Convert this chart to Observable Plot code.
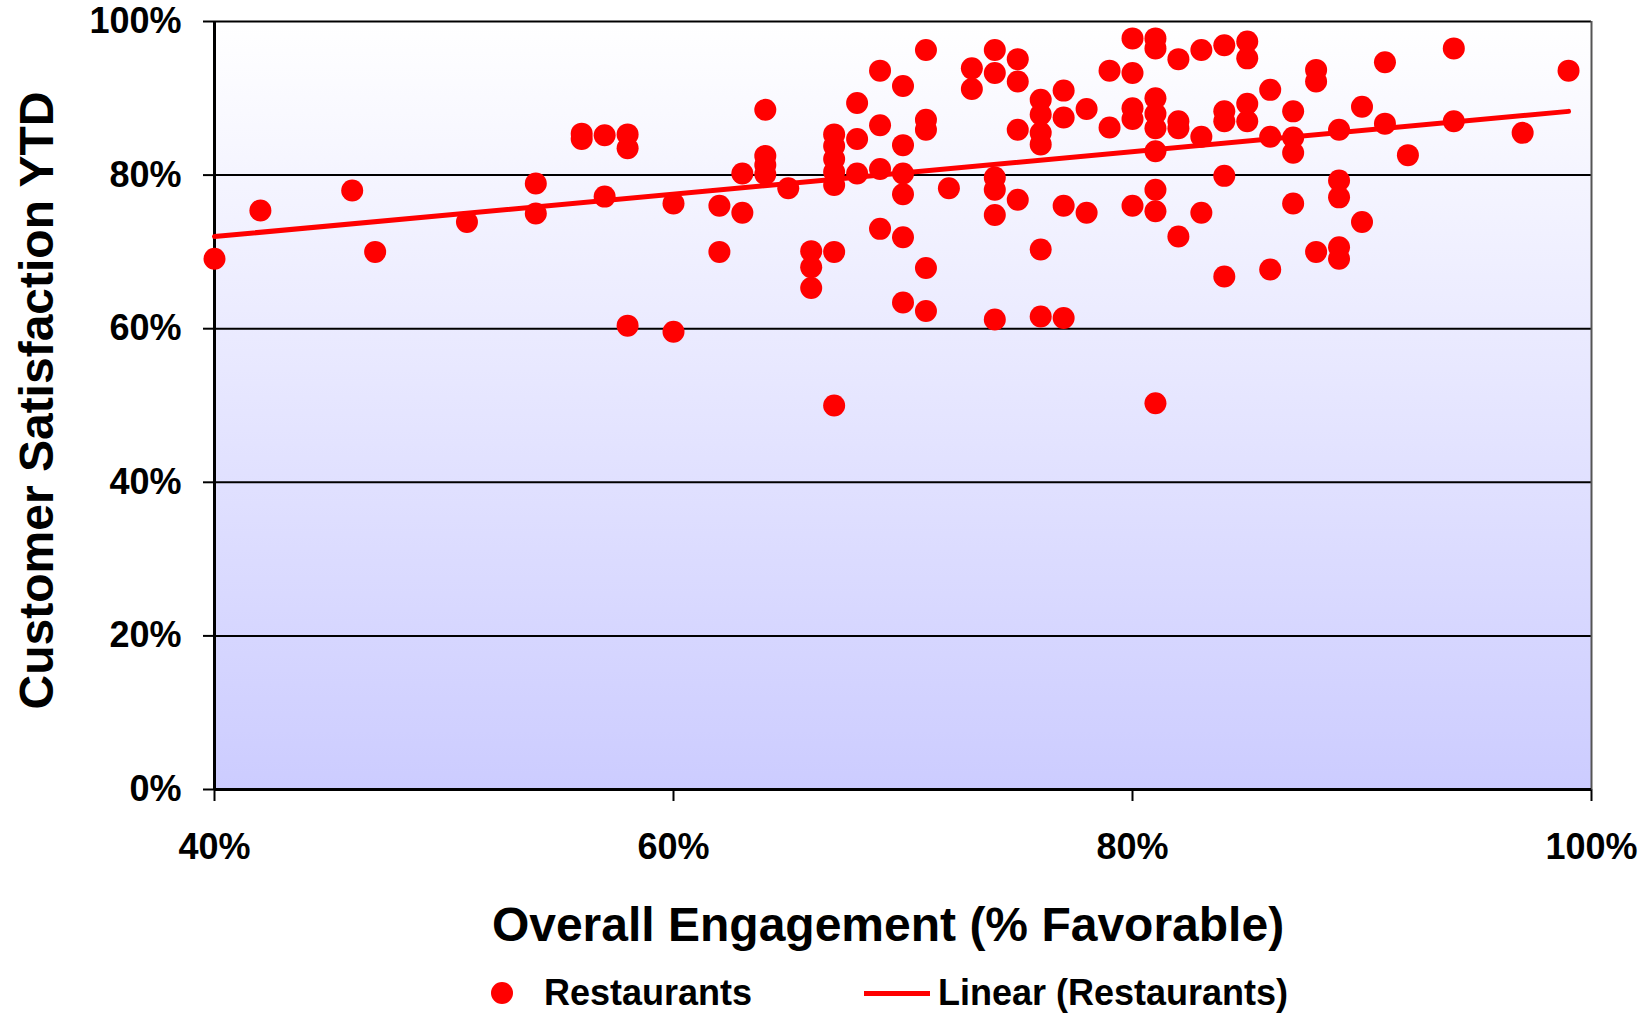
<!DOCTYPE html>
<html>
<head>
<meta charset="utf-8">
<script src="https://cdn.jsdelivr.net/npm/d3@7"></script>
<script src="https://cdn.jsdelivr.net/npm/@observablehq/plot@0.6"></script>
<style>
  html, body { margin: 0; padding: 0; background: #ffffff; }
  body { width: 1648px; height: 1014px; overflow: hidden; font-family: "Liberation Sans", Arial, sans-serif; }
  #chart svg { display: block; }
  #legend { position: relative; width: 1648px; height: 54px; font-weight: bold; font-size: 36px; color: #000; }
  #legend .item { position: absolute; top: 15px; height: 36px; line-height: 36px; white-space: nowrap; }
  #legend .dot { position: absolute; width: 22px; height: 22px; border-radius: 50%; background: #ff0000; top: 7px; }
  #legend .line { position: absolute; width: 66px; height: 5px; background: #ff0000; top: 16px; }
</style>
</head>
<body>
<div id="chart"></div>
<div id="legend"></div>
<script>
// Overall Engagement (% Favorable) columns, and the Customer Satisfaction YTD values read at each
const engagementLevels = [40, 42, 46, 47, 51, 54, 56, 57, 58, 60, 62, 63, 64, 65, 66, 67, 68, 69, 70, 71, 72, 73, 74, 75, 76, 77, 78, 79, 80, 81, 82, 83, 84, 85, 86, 87, 88, 89, 90, 91, 92, 94, 97, 99];
const satisfactionByLevel = [
  [69.1],                                   // 40
  [75.4],                                   // 42
  [78.0],                                   // 46
  [70.0],                                   // 47
  [73.9],                                   // 51
  [78.9, 75.0],                             // 54
  [85.4, 84.7],                             // 56
  [85.2, 77.2],                             // 57
  [85.3, 83.5, 60.4],                       // 58
  [76.3, 59.6],                             // 60
  [76.0, 70.0],                             // 62
  [80.2, 75.1],                             // 63
  [88.5, 82.5, 81.3, 80.1],                 // 64
  [78.3],                                   // 65
  [70.1, 68.0, 65.3],                       // 66
  [85.3, 83.8, 82.1, 80.4, 78.7, 70.0, 50.0], // 67
  [89.4, 84.7, 80.2],                       // 68
  [93.6, 86.5, 80.8, 73.0],                 // 69
  [91.6, 83.9, 80.2, 77.5, 71.9, 63.4],     // 70
  [96.3, 87.2, 85.9, 67.9, 62.3],           // 71
  [78.3],                                   // 72
  [93.9, 91.2],                             // 73
  [96.3, 93.3, 79.7, 78.1, 74.8, 61.2],     // 74
  [95.1, 92.2, 85.9, 76.8],                 // 75
  [89.8, 87.9, 85.5, 84.0, 70.3, 61.6],     // 76
  [91.0, 87.5, 76.0, 61.4],                 // 77
  [88.6, 75.1],                             // 78
  [93.6, 86.2],                             // 79
  [97.8, 93.3, 88.7, 87.3, 76.0],           // 80
  [97.8, 96.5, 90.0, 88.0, 86.1, 83.1, 78.1, 75.3, 50.3], // 81
  [95.1, 87.0, 86.1, 72.0],                 // 82
  [96.3, 85.0, 75.1],                       // 83
  [96.9, 88.3, 87.0, 79.9, 66.8],           // 84
  [97.4, 95.2, 89.3, 87.0],                 // 85
  [91.1, 85.0, 67.7],                       // 86
  [88.3, 84.9, 82.9, 76.3],                 // 87
  [93.7, 92.2, 70.0],                       // 88
  [85.9, 79.3, 77.1, 70.6, 69.1],           // 89
  [88.9, 73.9],                             // 90
  [94.7, 86.7],                             // 91
  [82.6],                                   // 92
  [96.5, 87.0],                             // 94
  [85.5],                                   // 97
  [93.6]                                    // 99
];
const xTicks = [40, 60, 80, 100];
const yTicks = [0, 20, 40, 60, 80, 100];
const xTitle = "Overall Engagement (% Favorable)";
const yTitle = "Customer Satisfaction YTD";
const seriesName = "Restaurants";
const trendName = "Linear (Restaurants)";

const data = engagementLevels.flatMap((x, i) => satisfactionByLevel[i].map(y => ({x, y})));
const pct = d => d + "%";

const svg = Plot.plot({
  width: 1648,
  height: 960,
  marginLeft: 214,
  marginRight: 57,
  marginTop: 21,
  marginBottom: 171,
  style: {
    fontFamily: "'Liberation Sans', Arial, sans-serif",
    fontSize: "36px",
    fontWeight: "bold",
    color: "#000",
    background: "#ffffff",
    overflow: "visible"
  },
  x: { domain: [40, 100], ticks: xTicks, tickFormat: pct, tickSize: 12, tickPadding: 32, label: null },
  y: { domain: [0, 100], ticks: yTicks, tickFormat: pct, tickSize: 11, tickPadding: 22, label: null },
  marks: [
    Plot.frame({ fill: "url(#bgGrad)", stroke: null }),
    Plot.ruleY(yTicks, { stroke: "#000", strokeWidth: 2 }),
    Plot.ruleX([100], { stroke: "#555", strokeWidth: 2 }),
    Plot.ruleX([40], { stroke: "#000", strokeWidth: 3 }),
    Plot.ruleY([0], { stroke: "#000", strokeWidth: 3 }),
    Plot.linearRegressionY(data, { x: "x", y: "y", ci: 0, stroke: "#ff0000", strokeWidth: 5 }),
    Plot.dot(data, { x: "x", y: "y", r: 11, fill: "#ff0000", stroke: null }),
    Plot.text([yTitle], { frameAnchor: "left", rotate: -90, dx: -177, dy: -5, textAnchor: "middle", lineAnchor: "middle", fontSize: 48, fontWeight: "bold", fill: "#000" }),
    Plot.text([xTitle], { frameAnchor: "bottom", dy: 136, dx: -15, textAnchor: "middle", lineAnchor: "middle", fontSize: 48, fontWeight: "bold", fill: "#000" })
  ]
});

// background gradient for the plotting area
const ns = "http://www.w3.org/2000/svg";
const defs = document.createElementNS(ns, "defs");
defs.innerHTML = '<linearGradient id="bgGrad" x1="0" y1="0" x2="0" y2="1">' +
  '<stop offset="0" stop-color="#ffffff"/><stop offset="1" stop-color="#ccccff"/></linearGradient>';
svg.insertBefore(defs, svg.firstChild);
svg.querySelectorAll("[aria-label$='axis'] path, [aria-label$='tick'] path, g[aria-label*='tick'] path").forEach(p => { p.setAttribute("stroke-width", 2); });
document.getElementById("chart").appendChild(svg);

// legend
const legend = document.getElementById("legend");
legend.innerHTML =
  '<span class="dot" style="left:491px;top:' + (15 + 7) + 'px"></span>' +
  '<span class="item" style="left:544px">' + seriesName + '</span>' +
  '<span class="line" style="left:864px;top:' + (15 + 16) + 'px"></span>' +
  '<span class="item" style="left:938px">' + trendName + '</span>';
</script>
</body>
</html>
